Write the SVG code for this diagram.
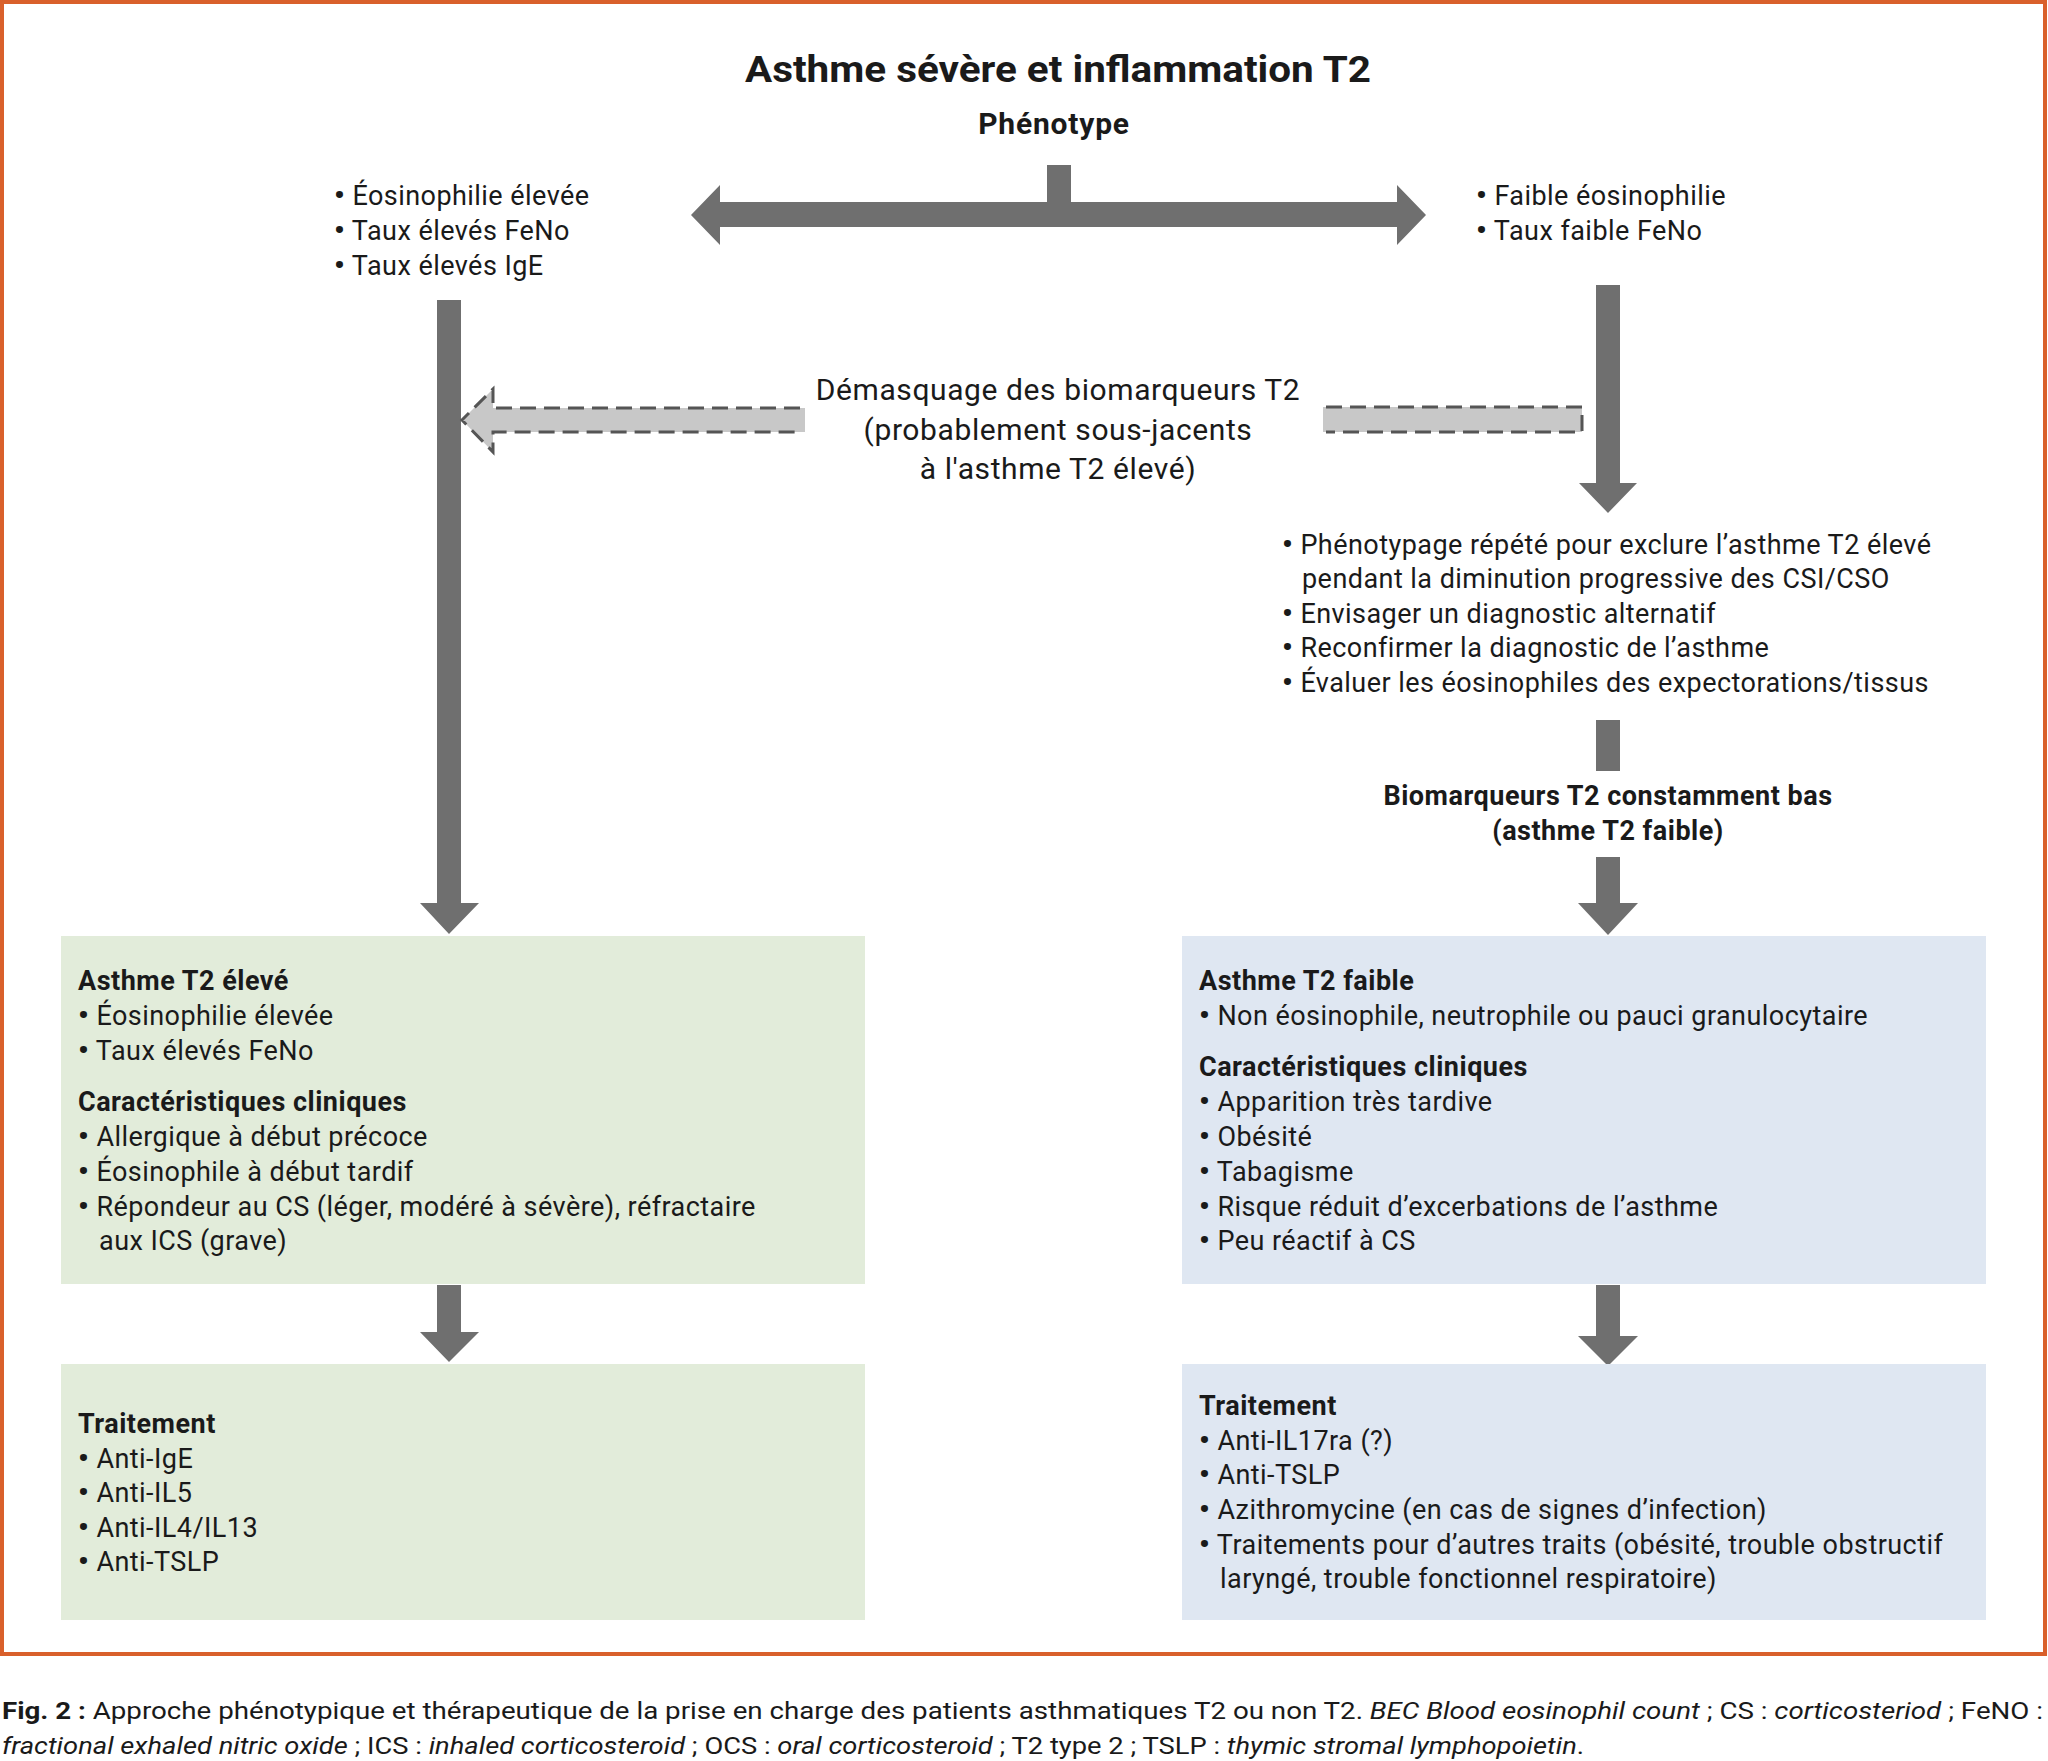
<svg xmlns="http://www.w3.org/2000/svg" width="2048" height="1761" viewBox="0 0 2048 1761">
<style>
  text { font-family: Roboto, "Liberation Sans", sans-serif; fill: #1a1a1a; }
  .t { font-size: 27px; letter-spacing: 0.45px; }
  .b { font-size: 27px; font-weight: bold; letter-spacing: 0.5px; }
  .c { text-anchor: middle; }
  .u { font-weight: bold; font-size: 30px; }
  .arrow { fill: #6f6f6f; }
  .dfill { fill: #c8c8c8; stroke: none; }
  .dline { fill: none; stroke: #555555; stroke-width: 3; stroke-dasharray: 16 8; }
  .green { fill: #e2ecda; }
  .blue { fill: #dfe7f2; }
  .cap { font-size: 24px; }
  .mid { font-size: 30px; letter-spacing: 0.6px; }
</style>
<rect x="0" y="0" width="2048" height="1761" fill="#ffffff"/>
<rect id="frame" x="2" y="2" width="2043" height="1652" fill="none" stroke="#d9602b" stroke-width="4"/>

<g id="connectors">
  <polygon class="arrow" points="691,215 720,185 720,202 1047,202 1047,165 1071,165 1071,202 1397,202 1397,185 1426,215 1397,245 1397,227 720,227 720,245"/>
  <polygon class="arrow" points="437,300 461,300 461,903 479,903 449,934 420,903 437,903"/>
  <polygon class="arrow" points="1596,285 1620,285 1620,483 1637,483 1608,513 1579,483 1596,483"/>
  <g id="dashed-left">
    <polygon class="dfill" points="805,408 493,408 493,389 462,420 493,452 493,432 805,432"/>
    <path class="dline" d="M 800,408 L 493,408 L 493,389 L 462,420 L 493,452 L 493,432 L 800,432"/>
  </g>
  <g id="dashed-right">
    <rect class="dfill" x="1323" y="407" width="259" height="25"/>
    <path class="dline" d="M 1326,407 L 1582,407 L 1582,432 L 1326,432"/>
  </g>
  <rect class="arrow" x="1596" y="720" width="24" height="51"/>
  <polygon class="arrow" points="1596,857 1620,857 1620,903 1638,903 1608,935 1578,903 1596,903"/>
  <polygon class="arrow" points="437,1285 461,1285 461,1332 479,1332 449,1362 420,1332 437,1332"/>
  <polygon class="arrow" points="1596,1285 1620,1285 1620,1336 1638,1336 1608,1366 1578,1336 1596,1336"/>
</g>

<g id="title">
  <text x="1058" y="82" class="c" font-size="37" font-weight="bold" textLength="626" lengthAdjust="spacingAndGlyphs">Asthme sévère et inflammation T2</text>
</g>
<g id="phenotype">
  <text x="1054" y="134" class="c" font-size="30" font-weight="bold" letter-spacing="0.8">Phénotype</text>
</g>

<g id="list-high">
  <text x="334" y="205" class="t"><tspan class="u">•</tspan> Éosinophilie élevée</text>
  <text x="334" y="240" class="t"><tspan class="u">•</tspan> Taux élevés FeNo</text>
  <text x="334" y="275" class="t"><tspan class="u">•</tspan> Taux élevés IgE</text>
</g>
<g id="list-low">
  <text x="1476" y="205" class="t"><tspan class="u">•</tspan> Faible éosinophilie</text>
  <text x="1476" y="240" class="t"><tspan class="u">•</tspan> Taux faible FeNo</text>
</g>

<g id="unmask-label">
  <text x="1058" y="400" class="c mid">Démasquage des biomarqueurs T2</text>
  <text x="1058" y="440" class="c mid">(probablement sous-jacents</text>
  <text x="1058" y="479" class="c mid">à l'asthme T2 élevé)</text>
</g>

<g id="checks">
  <text x="1282" y="554" class="t"><tspan class="u">•</tspan> Phénotypage répété pour exclure l’asthme T2 élevé</text>
  <text x="1302" y="588" class="t">pendant la diminution progressive des CSI/CSO</text>
  <text x="1282" y="623" class="t"><tspan class="u">•</tspan> Envisager un diagnostic alternatif</text>
  <text x="1282" y="657" class="t"><tspan class="u">•</tspan> Reconfirmer la diagnostic de l’asthme</text>
  <text x="1282" y="692" class="t"><tspan class="u">•</tspan> Évaluer les éosinophiles des expectorations/tissus</text>
</g>

<g id="biomarkers-low">
  <text x="1608" y="805" class="c b" font-size="28">Biomarqueurs T2 constamment bas</text>
  <text x="1608" y="840" class="c b" font-size="28">(asthme T2 faible)</text>
</g>

<g id="box-t2-high">
  <rect class="green" x="61" y="936" width="804" height="348"/>
  <text x="78" y="990" class="b">Asthme T2 élevé</text>
  <text x="78" y="1025" class="t"><tspan class="u">•</tspan> Éosinophilie élevée</text>
  <text x="78" y="1060" class="t"><tspan class="u">•</tspan> Taux élevés FeNo</text>
  <text x="78" y="1111" class="b">Caractéristiques cliniques</text>
  <text x="78" y="1146" class="t"><tspan class="u">•</tspan> Allergique à début précoce</text>
  <text x="78" y="1181" class="t"><tspan class="u">•</tspan> Éosinophile à début tardif</text>
  <text x="78" y="1216" class="t"><tspan class="u">•</tspan> Répondeur au CS (léger, modéré à sévère), réfractaire</text>
  <text x="99" y="1250" class="t">aux ICS (grave)</text>
</g>

<g id="box-t2-low">
  <rect class="blue" x="1182" y="936" width="804" height="348"/>
  <text x="1199" y="990" class="b">Asthme T2 faible</text>
  <text x="1199" y="1025" class="t"><tspan class="u">•</tspan> Non éosinophile, neutrophile ou pauci granulocytaire</text>
  <text x="1199" y="1076" class="b">Caractéristiques cliniques</text>
  <text x="1199" y="1111" class="t"><tspan class="u">•</tspan> Apparition très tardive</text>
  <text x="1199" y="1146" class="t"><tspan class="u">•</tspan> Obésité</text>
  <text x="1199" y="1181" class="t"><tspan class="u">•</tspan> Tabagisme</text>
  <text x="1199" y="1216" class="t"><tspan class="u">•</tspan> Risque réduit d’excerbations de l’asthme</text>
  <text x="1199" y="1250" class="t"><tspan class="u">•</tspan> Peu réactif à CS</text>
</g>

<g id="box-treat-high">
  <rect class="green" x="61" y="1364" width="804" height="256"/>
  <text x="78" y="1433" class="b">Traitement</text>
  <text x="78" y="1468" class="t"><tspan class="u">•</tspan> Anti-IgE</text>
  <text x="78" y="1502" class="t"><tspan class="u">•</tspan> Anti-IL5</text>
  <text x="78" y="1537" class="t"><tspan class="u">•</tspan> Anti-IL4/IL13</text>
  <text x="78" y="1571" class="t"><tspan class="u">•</tspan> Anti-TSLP</text>
</g>

<g id="box-treat-low">
  <rect class="blue" x="1182" y="1364" width="804" height="256"/>
  <text x="1199" y="1415" class="b">Traitement</text>
  <text x="1199" y="1450" class="t"><tspan class="u">•</tspan> Anti-IL17ra (?)</text>
  <text x="1199" y="1484" class="t"><tspan class="u">•</tspan> Anti-TSLP</text>
  <text x="1199" y="1519" class="t"><tspan class="u">•</tspan> Azithromycine (en cas de signes d’infection)</text>
  <text x="1199" y="1554" class="t"><tspan class="u">•</tspan> Traitements pour d’autres traits (obésité, trouble obstructif</text>
  <text x="1220" y="1588" class="t">laryngé, trouble fonctionnel respiratoire)</text>
</g>

<g id="caption">
  <text x="2" y="1719" class="cap" textLength="2041" lengthAdjust="spacingAndGlyphs"><tspan font-weight="bold">Fig. 2 :</tspan> Approche phénotypique et thérapeutique de la prise en charge des patients asthmatiques T2 ou non T2. <tspan font-style="italic">BEC Blood eosinophil count</tspan> ; CS : <tspan font-style="italic">corticosteriod</tspan> ; FeNO :</text>
  <text x="2" y="1754" class="cap" textLength="1582" lengthAdjust="spacingAndGlyphs"><tspan font-style="italic">fractional exhaled nitric oxide</tspan> ; ICS : <tspan font-style="italic">inhaled corticosteroid</tspan> ; OCS : <tspan font-style="italic">oral corticosteroid</tspan> ; T2 type 2 ; TSLP : <tspan font-style="italic">thymic stromal lymphopoietin</tspan>.</text>
</g>
</svg>
